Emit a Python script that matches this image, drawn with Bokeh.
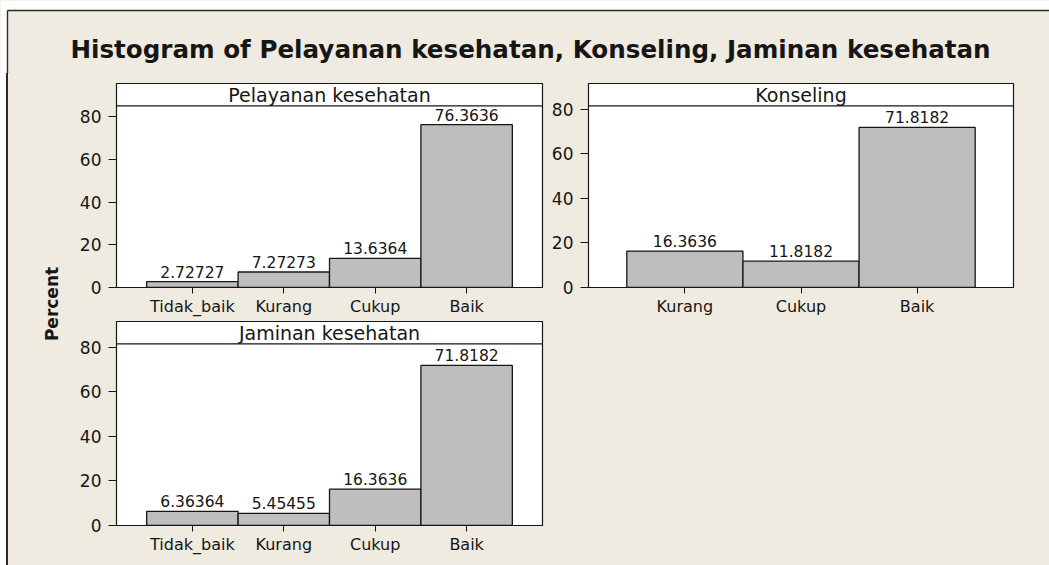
import math
from bokeh.plotting import figure
from bokeh.models import (FactorRange, Range1d, FixedTicker, Span, Label,
                          ColumnDataSource)
from bokeh.layouts import column, row
from bokeh.core.properties import value
from bokeh.embed import file_html
from bokeh.resources import INLINE

# ---------------- data ----------------
TITLE = "Histogram of Pelayanan kesehatan, Konseling, Jaminan kesehatan"
Y_LABEL = "Percent"

pelayanan_name = "Pelayanan kesehatan"
pelayanan_cats = ["Tidak_baik", "Kurang", "Cukup", "Baik"]
pelayanan_vals = [2.72727, 7.27273, 13.6364, 76.3636]

konseling_name = "Konseling"
konseling_cats = ["Kurang", "Cukup", "Baik"]
konseling_vals = [16.3636, 11.8182, 71.8182]

jaminan_name = "Jaminan kesehatan"
jaminan_cats = ["Tidak_baik", "Kurang", "Cukup", "Baik"]
jaminan_vals = [6.36364, 5.45455, 16.3636, 71.8182]

y_ticks = [0, 20, 40, 60, 80]

# ---------------- style ----------------
BG = "#EFEBE1"
BAR = "#BEBEBE"
INK = "#161616"
EDGE = "#2a2a2a"
FONT = "DejaVu Sans"
STRIP_PX = 22.4
BORDER_X = 7      # outer frame line, px from left
BORDER_Y = 10     # outer frame line, px from top


def blank(width, height):
    p = figure(width=width, height=height, x_range=Range1d(0, width),
               y_range=Range1d(0, height), min_border=0,
               x_axis_location=None, y_axis_location=None,
               toolbar_location=None, output_backend="svg")
    p.title.visible = False
    p.background_fill_color = BG
    p.border_fill_color = BG
    p.outline_line_color = None
    p.grid.visible = False
    return p


def panel(name, cats, vals, width, height, mb_left, mb_right, mb_top,
          mb_bottom, data_top):
    frame_h = height - mb_top - mb_bottom
    px_per_unit = (frame_h - STRIP_PX) / data_top
    y_end = frame_h / px_per_unit
    p = figure(width=width, height=height,
               x_range=FactorRange(*cats, range_padding=0.33,
                                   range_padding_units="absolute"),
               y_range=Range1d(0, y_end),
               min_border_left=mb_left, min_border_right=mb_right,
               min_border_top=mb_top, min_border_bottom=mb_bottom,
               toolbar_location=None, output_backend="svg")
    p.title.visible = False
    p.background_fill_color = "white"
    p.border_fill_color = BG
    p.outline_line_color = INK
    p.outline_line_width = 1.2
    p.grid.visible = False

    src = ColumnDataSource(dict(cat=cats, val=vals,
                                label=[f"{v:.6g}" for v in vals]))
    p.vbar(x="cat", top="val", width=1.0, source=src, fill_color=BAR,
           line_color=INK, line_width=1.3)
    p.text(x="cat", y="val", text="label", source=src, text_align="center",
           text_baseline="bottom", y_offset=-4,
           text_font=value(FONT), text_font_size="15.5px", text_color=INK)

    p.add_layout(Span(location=data_top, dimension="width", line_color=INK,
                      line_width=1.2))
    p.add_layout(Label(x=len(cats) / 2, y=(data_top + y_end) / 2, text=name,
                       text_align="center", text_baseline="middle",
                       text_font=FONT, text_font_size="19px",
                       text_color=INK))

    xa = p.xaxis[0]
    xa.axis_line_color = INK
    xa.major_tick_line_color = INK
    xa.major_tick_in = 0
    xa.major_tick_out = 6
    xa.minor_tick_line_color = None
    xa.major_label_standoff = 3
    xa.major_label_text_font = FONT
    xa.major_label_text_font_size = "16px"
    xa.major_label_text_color = INK

    ya = p.yaxis[0]
    ya.ticker = FixedTicker(ticks=y_ticks)
    ya.axis_line_color = INK
    ya.major_tick_line_color = INK
    ya.major_tick_in = 0
    ya.major_tick_out = 8
    ya.minor_tick_line_color = None
    ya.major_label_standoff = 7
    ya.major_label_text_font = FONT
    ya.major_label_text_font_size = "17px"
    ya.major_label_text_color = INK
    return p


# ---------------- title strip (with outer frame corner) ----------------
W = 1049
TH = 73
tf = blank(W, TH)
# white page area outside the outer frame
tf.quad(left=[0, 0], right=[W, BORDER_X - 0.5], bottom=[TH - BORDER_Y, 0],
        top=[TH, TH], fill_color="white", line_color=None)
tf.segment(x0=[BORDER_X, BORDER_X], y0=[TH - BORDER_Y, 0],
           x1=[W, BORDER_X], y1=[TH - BORDER_Y, TH - BORDER_Y],
           line_color=EDGE, line_width=1.4)
tf.add_layout(Label(x=530, y=24.5, text=TITLE, text_align="center",
                    text_baseline="middle", text_font=FONT,
                    text_font_style="bold", text_font_size="24.6px",
                    text_color=INK))

# ---------------- left label strip (transparent; row paints the edge) ------
LW, LH = 69, 492
lf = blank(LW, LH)
lf.background_fill_color = None
lf.border_fill_color = None
lf.add_layout(Label(x=51.7, y=261.5, text=Y_LABEL, angle=math.pi / 2,
                    text_align="center", text_baseline="middle",
                    text_font=FONT, text_font_style="bold",
                    text_font_size="17px", text_color=INK))

# ---------------- panels ----------------
p1 = panel(pelayanan_name, pelayanan_cats, pelayanan_vals,
           476, 245, 47, 3, 10, 31, 85.15)
p2 = panel(konseling_name, konseling_cats, konseling_vals,
           504, 245, 43, 36, 10, 31, 81.5)
p3 = panel(jaminan_name, jaminan_cats, jaminan_vals,
           476, 247, 47, 3, 3, 40, 81.5)
sp = blank(504, 247)

bgs = {"background-color": BG}
edge_bg = {"background": (f"linear-gradient(to right, #ffffff 0px, #ffffff 6.3px, "
                          f"{EDGE} 6.3px, {EDGE} 7.7px, {BG} 7.7px, {BG} 100%)")}
layout = column(tf,
                row(lf,
                    column(row(p1, p2, styles=bgs), row(p3, sp, styles=bgs),
                           styles=bgs),
                    styles=edge_bg),
                styles=bgs)

open("out.html", "w").write(file_html(layout, INLINE))
